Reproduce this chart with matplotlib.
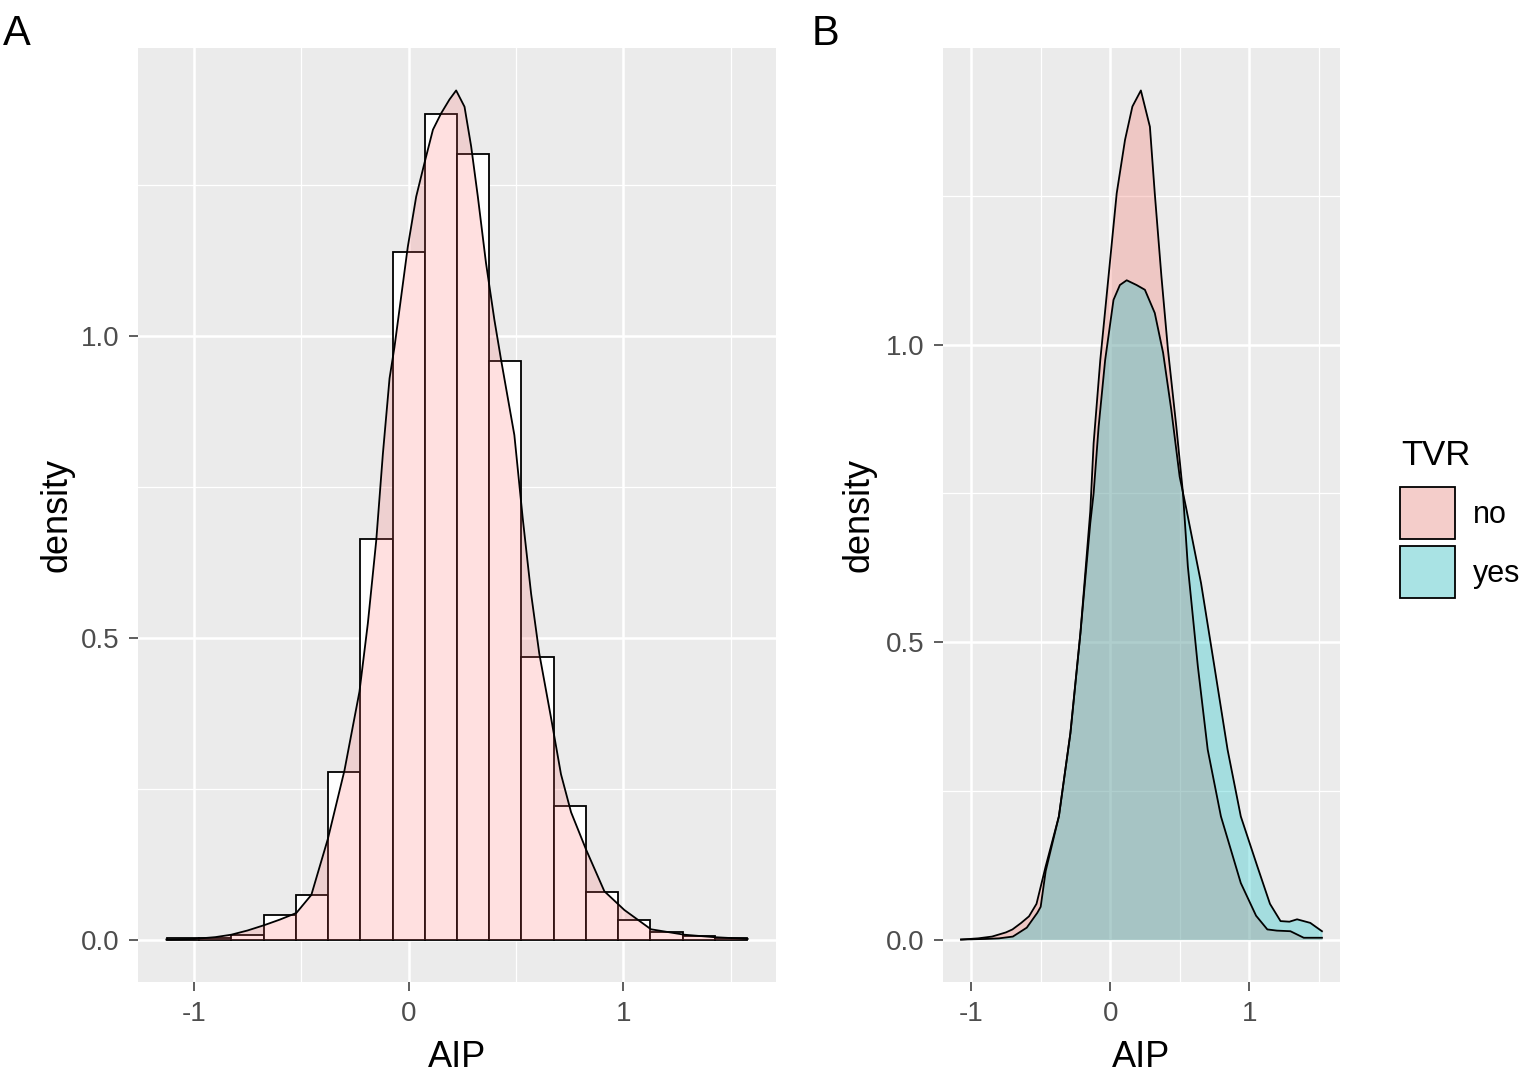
import numpy as np
import matplotlib.pyplot as plt
from matplotlib.colors import to_rgb
from matplotlib.patches import Patch

plt.rcParams['font.family'] = ['Liberation Sans', 'DejaVu Sans']

# --- panel A: histogram of AIP (density scale) with a density curve ---
bin_edges = [-1.125, -0.975, -0.825, -0.675, -0.525, -0.375, -0.225, -0.075,
             0.075, 0.225, 0.375, 0.525, 0.675, 0.825, 0.975, 1.125, 1.275,
             1.425, 1.575]
hist_density = [0.002, 0.003, 0.008, 0.041, 0.073, 0.277, 0.664, 1.139, 1.368,
                1.302, 0.958, 0.469, 0.221, 0.079, 0.033, 0.012, 0.006, 0.003]

kde_x = [-1.128, -1.0, -0.9, -0.826, -0.75, -0.671, -0.6, -0.523, -0.453,
         -0.376, -0.299, -0.229, -0.19, -0.151, -0.12, -0.089, -0.066, -0.035,
         -0.004, 0.035, 0.073, 0.113, 0.151, 0.19, 0.221, 0.26, 0.291, 0.322,
         0.36, 0.399, 0.43, 0.492, 0.531, 0.57, 0.608, 0.663, 0.709, 0.756,
         0.826, 0.911, 1.004, 1.128, 1.283, 1.42, 1.578]
kde_y = [0.0, 0.001, 0.004, 0.008, 0.015, 0.024, 0.033, 0.044, 0.074,
         0.167, 0.28, 0.411, 0.524, 0.661, 0.805, 0.93, 0.982, 1.065,
         1.148, 1.231, 1.286, 1.342, 1.369, 1.392, 1.407, 1.38, 1.314, 1.231,
         1.121, 1.027, 0.961, 0.836, 0.698, 0.573, 0.474, 0.367, 0.274, 0.211,
         0.149, 0.08, 0.049, 0.017, 0.008, 0.004, 0.001]

# --- panel B: AIP density by TVR group ---
tvr_groups = ['no', 'yes']
tvr_colors = ['#F8766D', '#00BFC4']

no_x = [-1.073, -0.95, -0.85, -0.75, -0.703, -0.64, -0.584, -0.53, -0.464,
        -0.369, -0.286, -0.214, -0.143, -0.119, -0.071, -0.012, 0.047, 0.107,
        0.16, 0.221, 0.286, 0.321, 0.369, 0.416, 0.476, 0.524, 0.559, 0.631,
        0.702, 0.797, 0.94, 1.05, 1.131, 1.2, 1.297, 1.393, 1.524]
no_y = [0.0, 0.002, 0.005, 0.012, 0.017, 0.028, 0.039, 0.06, 0.123,
        0.207, 0.347, 0.515, 0.72, 0.834, 0.974, 1.114, 1.254, 1.344,
        1.4, 1.427, 1.366, 1.254, 1.114, 0.991, 0.862, 0.75, 0.627, 0.459,
        0.319, 0.207, 0.095, 0.04, 0.017, 0.015, 0.014, 0.003, 0.003]

yes_x = [-1.073, -0.9, -0.8, -0.7, -0.6, -0.524, -0.5, -0.464, -0.369,
         -0.286, -0.214, -0.143, -0.119, -0.083, -0.036, 0.024, 0.07, 0.119,
         0.19, 0.25, 0.321, 0.381, 0.44, 0.5, 0.547, 0.654, 0.75, 0.845,
         0.94, 1.059, 1.15, 1.226, 1.29, 1.345, 1.44, 1.524]
yes_y = [0.0, 0.001, 0.002, 0.005, 0.02, 0.045, 0.055, 0.115, 0.207,
         0.347, 0.515, 0.7, 0.75, 0.862, 0.974, 1.075, 1.1, 1.108,
         1.1, 1.092, 1.053, 0.986, 0.89, 0.778, 0.725, 0.599, 0.459, 0.319,
         0.207, 0.123, 0.06, 0.031, 0.03, 0.034, 0.028, 0.014]

W, H = 1535, 1088
fig = plt.figure(figsize=(W / 100, H / 100), dpi=100)


def add_panel(left, top, right, bottom):
    return fig.add_axes([left / W, 1 - bottom / H, (right - left) / W,
                         (bottom - top) / H])


def style(ax, xlo, xhi, ymax):
    xpad = 0.05 * (xhi - xlo)
    ax.set_xlim(xlo - xpad, xhi + xpad)
    ax.set_ylim(-0.05 * ymax, 1.05 * ymax)
    ax.set_facecolor('#EBEBEB')
    for s in ax.spines.values():
        s.set_visible(False)
    ax.set_xticks([-1, 0, 1])
    ax.set_xticklabels(['-1', '0', '1'])
    ax.set_yticks([0, 0.5, 1.0])
    ax.set_yticklabels(['0.0', '0.5', '1.0'])
    ax.set_xticks([-0.5, 0.5, 1.5], minor=True)
    ax.set_yticks([0.25, 0.75, 1.25], minor=True)
    ax.grid(which='major', color='white', lw=1.8)
    ax.grid(which='minor', color='white', lw=0.9)
    ax.set_axisbelow(True)
    ax.tick_params(which='major', length=6.5, width=1.1, color='#333333',
                   labelsize=20, labelcolor='#4D4D4D')
    ax.tick_params(axis='x', which='major', pad=7)
    ax.tick_params(axis='y', which='major', pad=7)
    ax.tick_params(which='minor', length=0)


# panel A
ax_a = add_panel(138, 48, 776, 982)
ax_a.bar(bin_edges[:-1], hist_density, width=np.diff(bin_edges), align='edge',
         color='white', edgecolor='black', lw=1.3, zorder=2)
ax_a.fill_between(kde_x, kde_y, color='#FF6666', alpha=0.2, lw=0, zorder=3)
ax_a.plot(kde_x, kde_y, color='black', lw=1.3, zorder=4)
style(ax_a, bin_edges[0], bin_edges[-1], max(max(hist_density), max(kde_y)))

# panel B
ax_b = add_panel(943, 48, 1340, 982)
curves = [(no_x, no_y), (yes_x, yes_y)]
for (cx, cy), col in zip(curves, tvr_colors):
    ax_b.fill_between(cx, cy, color=col, alpha=0.3, lw=0, zorder=2)
    ax_b.plot(cx, cy, color='black', lw=1.3, zorder=3)
style(ax_b, min(no_x + yes_x), max(no_x + yes_x), max(no_y + yes_y))

# axis titles and panel tags
for xc, tag, tx in [(457, 'A', 3), (1141, 'B', 812)]:
    fig.text(xc / W, 1 - 1067 / H, 'AIP', ha='center', va='baseline',
             fontsize=26)
    fig.text(tx / W, 1 - 45 / H, tag, ha='left', va='baseline', fontsize=30)
fig.text(57 / W, 1 - 515 / H, 'density', rotation=90, ha='center',
         va='center', fontsize=26)
fig.text(859 / W, 1 - 515 / H, 'density', rotation=90, ha='center',
         va='center', fontsize=26)

# legend, key colours blended over the grey95 key background as in ggplot
fig.text(1401 / W, 1 - 465 / H, 'TVR', ha='left', va='baseline', fontsize=25)
key_bg = np.array(to_rgb('#F2F2F2'))
handles = [Patch(facecolor=0.7 * key_bg + 0.3 * np.array(to_rgb(c)),
                 edgecolor='black', lw=1.3) for c in tvr_colors]
fig.legend(handles, tvr_groups, loc='upper left',
           bbox_to_anchor=(1400 / W, 1 - 487 / H), frameon=False,
           fontsize=22, handlelength=1.8,
           handleheight=2.24, labelspacing=0.23, handletextpad=0.59,
           borderpad=0, borderaxespad=0)

fig.savefig('out.png', dpi=100)
